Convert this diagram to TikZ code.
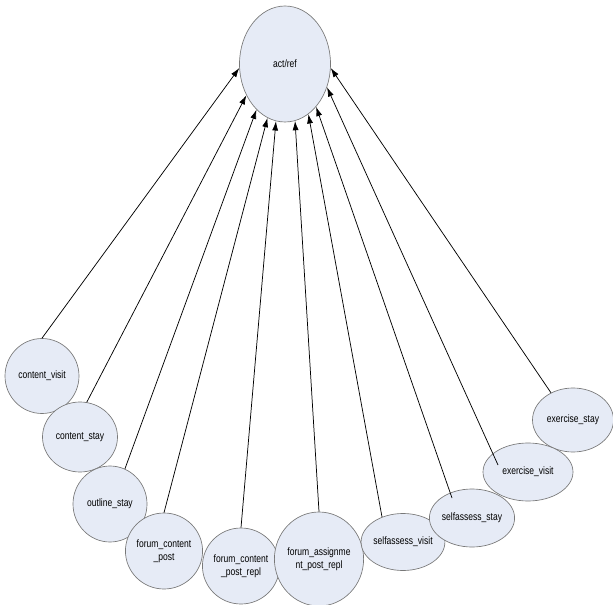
\documentclass[tikz,border=0pt]{standalone}
\usepackage{fontspec}
\setmainfont[FakeStretch=0.8]{Liberation Sans}
\usetikzlibrary{shapes.geometric,arrows.meta}
\definecolor{nodefill}{RGB}{230,235,246}
\definecolor{nodeline}{RGB}{120,120,120}
\tikzset{
  ell/.style={ellipse, draw=nodeline, fill=nodefill, line width=0.5pt, inner sep=0pt, align=center, font=\fontsize{8}{9.5}\selectfont},
  con/.style={draw=black, line width=0.55pt, -{Latex[length=7pt,width=4.5pt]}}
}
\begin{document}
\begin{tikzpicture}[x=0.75pt,y=-0.75pt]
\useasboundingbox (0,0) rectangle (613,605);
\node[ell, minimum width=91*0.75pt, minimum height=116*0.75pt] (actref) at (285,64) {act/ref};
\node[ell, minimum width=74*0.75pt, minimum height=75*0.75pt] (cv) at (42,376) {content\_visit};
\node[ell, minimum width=75*0.75pt, minimum height=70*0.75pt] (cs) at (80,437) {content\_stay};
\node[ell, minimum width=74*0.75pt, minimum height=76*0.75pt] (os) at (110,504) {outline\_stay};
\node[ell, minimum width=75*0.75pt, minimum height=76*0.75pt] (fcp) at (164,551) {forum\_content\\\_post};
\node[ell, minimum width=75*0.75pt, minimum height=76*0.75pt] (fcpr) at (241,566) {forum\_content\\\_post\_repl};
\node[ell, minimum width=84*0.75pt, minimum height=94*0.75pt] (fapr) at (319,559) {forum\_assignme\\nt\_post\_repl};
\node[ell, minimum width=81*0.75pt, minimum height=64*0.75pt] (es) at (573,420) {exercise\_stay};
\node[ell, minimum width=90*0.75pt, minimum height=58*0.75pt] (ev) at (528,472) {exercise\_visit};
\node[ell, minimum width=82*0.75pt, minimum height=57*0.75pt] (sv) at (403,542) {selfassess\_visit};
\node[ell, minimum width=83*0.75pt, minimum height=58*0.75pt] (ss) at (472,518) {selfassess\_stay};
\draw[con] (cv.north) -- (actref.185);
\draw[con] (cs.79) -- (actref.219);
\draw[con] (os.67) -- (actref.238);
\draw[con] (fcp.north) -- (actref.252);
\draw[con] (fcpr.north) -- (actref.261);
\draw[con] (fapr.north) -- (actref.280);
\draw[con] (sv.130) -- (actref.295);
\draw[con] ([shift={(-20,-20)}]ss.center) -- (actref.306);
\draw[con] ([shift={(-30,-7)}]ev.center) -- (actref.331);
\draw[con] (es.129) -- (actref.355);
\end{tikzpicture}
\end{document}
